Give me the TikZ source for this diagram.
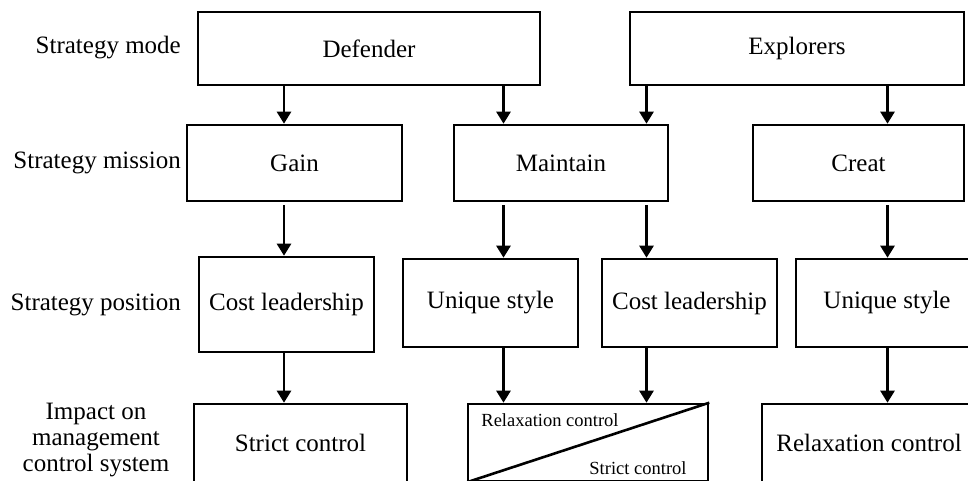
\documentclass[tikz,border=0pt]{standalone}
\usepackage{fontspec}
\setmainfont{Liberation Serif}
\usetikzlibrary{arrows.meta}
\begin{document}
\begin{tikzpicture}[x=1pt,y=-1pt,
  box/.style={draw, line width=2.6pt, inner sep=0pt, font=\fontsize{25}{26}\selectfont},
  rowlabel/.style={anchor=east, inner sep=0pt, font=\fontsize{25}{26}\selectfont},
  small/.style={inner sep=0pt, font=\fontsize{18.5}{20}\selectfont},
  arr/.style={line width=2.6pt, -{Triangle[length=12pt,width=14pt]}, shorten <=3pt}]
\useasboundingbox (0,0) rectangle (968,480);
\begin{scope}
\clip (0,0) rectangle (968,480);

% row labels
\node[rowlabel] (lmode) at (181,48) {Strategy mode};
\node[rowlabel] (lmission) at (181,163) {Strategy mission};
\node[rowlabel] (lposition) at (181,305) {Strategy position};
\node[inner sep=0pt, align=center, font=\fontsize{25}{26}\selectfont] (limpact) at (96,440)
  {Impact on\\management\\control system};

% strategy mode
\node[box, minimum width=342, minimum height=73] (def) at (369,48.5) {Defender};
\node[box, minimum width=334, minimum height=73] (exp) at (797,48.5) {Explorers};

% strategy mission
\node[box, minimum width=215, minimum height=76] (gain) at (294.5,163) {Gain};
\node[box, minimum width=214, minimum height=76] (main) at (561,163) {Maintain};
\node[box, minimum width=211, minimum height=76] (creat) at (858.5,163) {Creat};

% strategy position
\node[box, minimum width=175, minimum height=95] (costA) at (286.5,304.5) {Cost leadership};
\node[box, minimum width=175, minimum height=88] (uniqA) at (490.5,303) {Unique style};
\node[box, minimum width=175, minimum height=88] (costB) at (689.5,303) {Cost leadership};
\node[box, minimum width=182, minimum height=88] (uniqB) at (887,303) {Unique style};

% impact on management control system (bottom edges run off the page)
\node[box, minimum width=213, minimum height=78] (strict) at (300.5,443) {Strict control};
\node[box, minimum width=240, minimum height=77] (split) at (588,442.5) {};
\draw[line width=2.6pt] (split.south west) -- (split.north east);
\node[small] (splitR) at (550,420) {Relaxation control};
\node[small] (splitS) at (638,468) {Strict control};
\node[box, minimum width=214, minimum height=78] (relax) at (869,443) {Relaxation control};

% arrow columns
\coordinate (c1) at (284,0);
\coordinate (c2) at (503.5,0);
\coordinate (c3) at (646.5,0);
\coordinate (c4) at (887.5,0);

\draw[arr, shorten <=0pt] (def.south -| c1) -- (gain.north -| c1);
\draw[arr, shorten <=0pt] (def.south -| c2) -- (main.north -| c2);
\draw[arr, shorten <=0pt] (exp.south -| c3) -- (main.north -| c3);
\draw[arr, shorten <=0pt] (exp.south -| c4) -- (creat.north -| c4);

\draw[arr] (gain.south -| c1) -- (costA.north -| c1);
\draw[arr] (main.south -| c2) -- (uniqA.north -| c2);
\draw[arr] (main.south -| c3) -- (costB.north -| c3);
\draw[arr] (creat.south -| c4) -- (uniqB.north -| c4);

\draw[arr, shorten <=0pt] (costA.south -| c1) -- (strict.north -| c1);
\draw[arr, shorten <=0pt] (uniqA.south -| c2) -- (split.north -| c2);
\draw[arr, shorten <=0pt] (costB.south -| c3) -- (split.north -| c3);
\draw[arr, shorten <=0pt] (uniqB.south -| c4) -- (relax.north -| c4);
\end{scope}
\end{tikzpicture}
\end{document}
